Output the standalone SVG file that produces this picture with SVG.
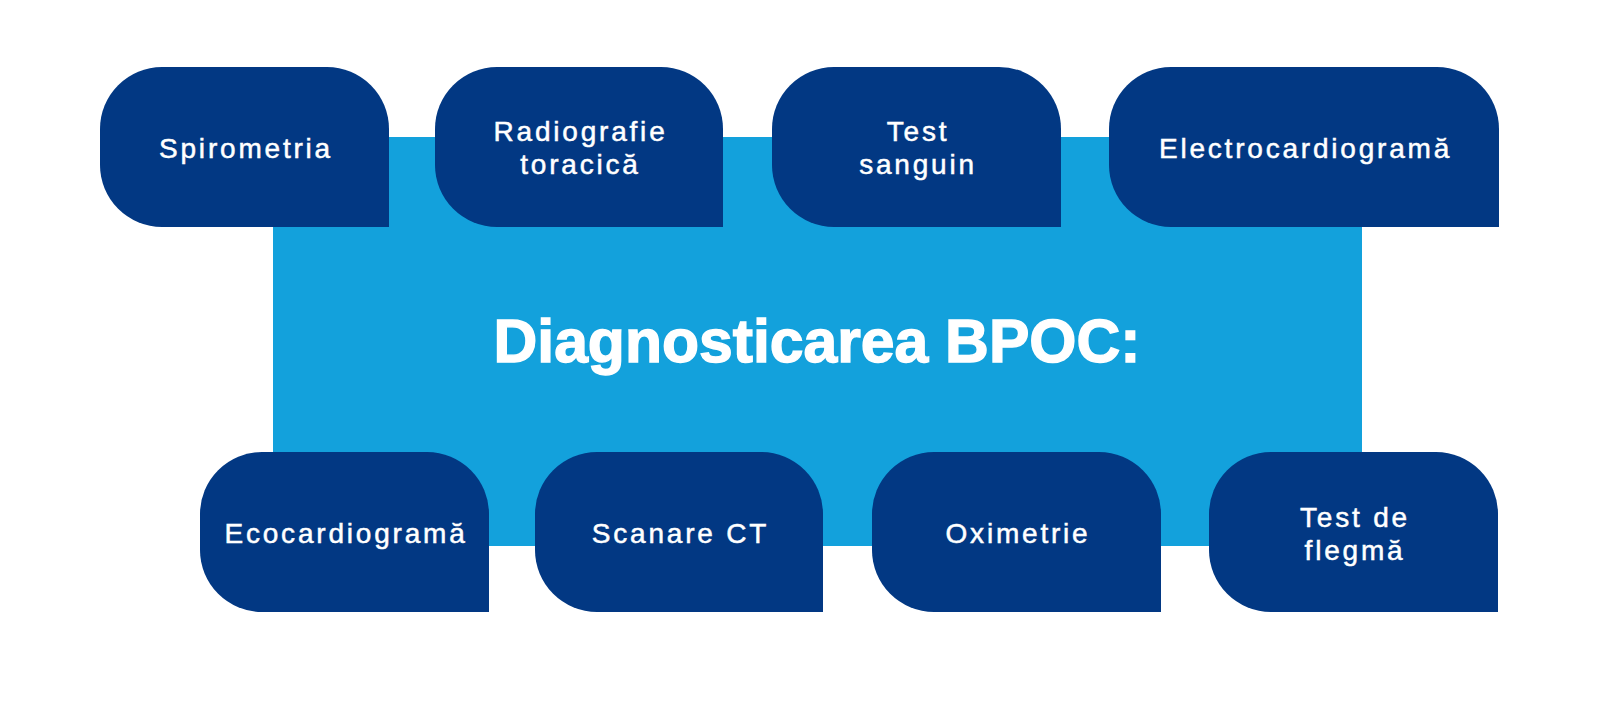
<svg xmlns="http://www.w3.org/2000/svg" width="1600" height="702" viewBox="0 0 1600 702">
<defs>
<style>
.node{fill:#023883}
.lbl{fill:#ffffff;stroke:#ffffff;stroke-width:0.5;font-family:"Liberation Sans",Arial,sans-serif;font-size:28px;letter-spacing:2.8px;text-anchor:middle}
.title{fill:#ffffff;stroke:#ffffff;stroke-width:1.4;font-family:"Liberation Sans",Arial,sans-serif;font-weight:bold;font-size:61px;text-anchor:middle}
</style>
</defs>
<rect width="1600" height="702" fill="#ffffff"/>
<g id="center">
<rect x="273" y="137" width="1089" height="409" fill="#13a1dc"/>
<text class="title" x="817" y="362" textLength="647" lengthAdjust="spacingAndGlyphs">Diagnosticarea BPOC:</text>
</g>
<g id="connectors"></g>
<g id="n1"><path class="node" d="M389,227 H162 A62,62 0 0 1 100,165 V129 A62,62 0 0 1 162,67 H327 A62,62 0 0 1 389,129 Z"/><text class="lbl" x="246" y="158">Spirometria</text></g>
<g id="n2"><path class="node" d="M723,227 H497 A62,62 0 0 1 435,165 V129 A62,62 0 0 1 497,67 H661 A62,62 0 0 1 723,129 Z"/><text class="lbl" x="580.5" y="141">Radiografie</text><text class="lbl" x="580.5" y="174">toracică</text></g>
<g id="n3"><path class="node" d="M1061,227 H834 A62,62 0 0 1 772,165 V129 A62,62 0 0 1 834,67 H999 A62,62 0 0 1 1061,129 Z"/><text class="lbl" x="918" y="141">Test</text><text class="lbl" x="918" y="174">sanguin</text></g>
<g id="n4"><path class="node" d="M1499,227 H1171 A62,62 0 0 1 1109,165 V129 A62,62 0 0 1 1171,67 H1437 A62,62 0 0 1 1499,129 Z"/><text class="lbl" x="1305.5" y="158">Electrocardiogramă</text></g>
<g id="n5"><path class="node" d="M489,612 H262 A62,62 0 0 1 200,550 V514 A62,62 0 0 1 262,452 H427 A62,62 0 0 1 489,514 Z"/><text class="lbl" x="346" y="543">Ecocardiogramă</text></g>
<g id="n6"><path class="node" d="M823,612 H597 A62,62 0 0 1 535,550 V514 A62,62 0 0 1 597,452 H761 A62,62 0 0 1 823,514 Z"/><text class="lbl" x="680.5" y="543">Scanare CT</text></g>
<g id="n7"><path class="node" d="M1161,612 H934 A62,62 0 0 1 872,550 V514 A62,62 0 0 1 934,452 H1099 A62,62 0 0 1 1161,514 Z"/><text class="lbl" x="1018" y="543">Oximetrie</text></g>
<g id="n8"><path class="node" d="M1498,612 H1271 A62,62 0 0 1 1209,550 V514 A62,62 0 0 1 1271,452 H1436 A62,62 0 0 1 1498,514 Z"/><text class="lbl" x="1355" y="527">Test de</text><text class="lbl" x="1355" y="560">flegmă</text></g>
</svg>
